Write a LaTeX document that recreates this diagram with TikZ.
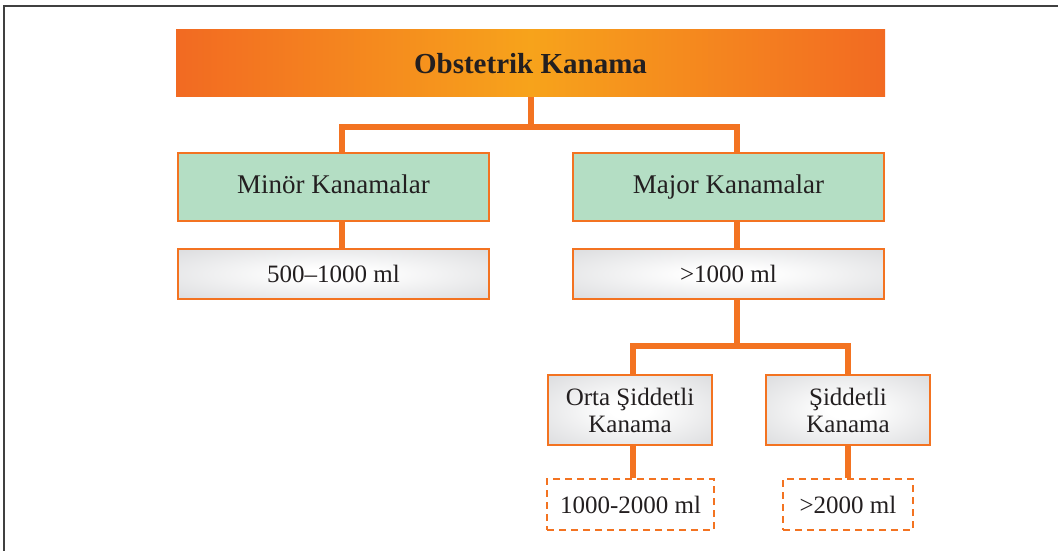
\documentclass[tikz,border=0pt]{standalone}
\usepackage{fontspec}
\setmainfont{Liberation Serif}

\definecolor{lineorange}{HTML}{F37321}
\definecolor{darkorange}{HTML}{F26A22}
\definecolor{lightorange}{HTML}{F7A31B}
\definecolor{mintgreen}{HTML}{B4DEC4}
\definecolor{boxgray}{HTML}{CBCCCF}
\definecolor{textdark}{HTML}{231F20}
\definecolor{framegray}{HTML}{404040}

\pgfdeclareradialshading{boxglow}{\pgfpoint{0bp}{0bp}}{color(0bp)=(white); color(6bp)=(white);
  color(50bp)=(boxgray); color(72bp)=(boxgray)}

\tikzset{
  conn/.style={draw=lineorange, line width=6pt},
  titlebox/.style={minimum width=709pt, minimum height=67pt, left color=darkorange,
    right color=darkorange, middle color=lightorange, text=textdark,
    font=\bfseries\fontsize{29}{32}\selectfont},
  greenbox/.style={draw=lineorange, line width=2pt, fill=mintgreen, text=textdark,
    minimum width=311pt, minimum height=68pt, text height=19pt, text depth=6pt,
    font=\fontsize{27}{30}\selectfont},
  graybox/.style={draw=lineorange, line width=2pt, shading=boxglow,
    text=textdark, align=center, font=\fontsize{25}{27}\selectfont},
  dashbox/.style={draw=lineorange, line width=2pt, dash pattern=on 7pt off 5pt,
    text=textdark, font=\fontsize{25}{27}\selectfont}
}

\begin{document}
\begin{tikzpicture}[x=1pt, y=-1pt]
\useasboundingbox (0,0) rectangle (1058,551);

% Frame
\draw[framegray, line width=2pt] (4,551) -- (4,6) -- (1058,6);

% Boxes
\node[titlebox] (title) at (530.5,63.5) {Obstetrik Kanama};
\node[greenbox] (minor) at (333.5,187) {Minör Kanamalar};
\node[greenbox] (major) at (728.5,187) {Major Kanamalar};
\node[graybox, minimum width=311pt, minimum height=50pt] (minorml) at (333.5,274) {500–1000 ml};
\node[graybox, minimum width=311pt, minimum height=50pt] (majorml) at (728.5,274) {\textgreater1000 ml};
\node[graybox, minimum width=164pt, minimum height=70pt] (orta) at (630,410) {Orta Şiddetli\\Kanama};
\node[graybox, minimum width=164pt, minimum height=70pt] (siddetli) at (848,410) {Şiddetli\\Kanama};
\node[dashbox, minimum width=167pt, minimum height=51pt] (ortaml) at (630.5,504.5) {1000-2000 ml};
\node[dashbox, minimum width=130pt, minimum height=51pt] (siddetliml) at (848,504.5) {\textgreater2000 ml};

% Connectors
\draw[conn] (title.south) -- ++(0,30) -| ([xshift=8pt]minor.north);
\draw[conn] (title.south) -- ++(0,30) -| ([xshift=8pt]major.north);
\draw[conn] ([xshift=8pt]minor.south) -- ([xshift=8pt]minorml.north);
\draw[conn] ([xshift=8pt]major.south) -- ([xshift=8pt]majorml.north);
\draw[conn] ([xshift=8pt]majorml.south) -- ++(0,46) -| ([xshift=3pt]orta.north);
\draw[conn] ([xshift=8pt]majorml.south) -- ++(0,46) -| (siddetli.north);
\draw[conn] ([xshift=3pt]orta.south) -- ([xshift=2.5pt]ortaml.north);
\draw[conn] (siddetli.south) -- (siddetliml.north);
\end{tikzpicture}
\end{document}
